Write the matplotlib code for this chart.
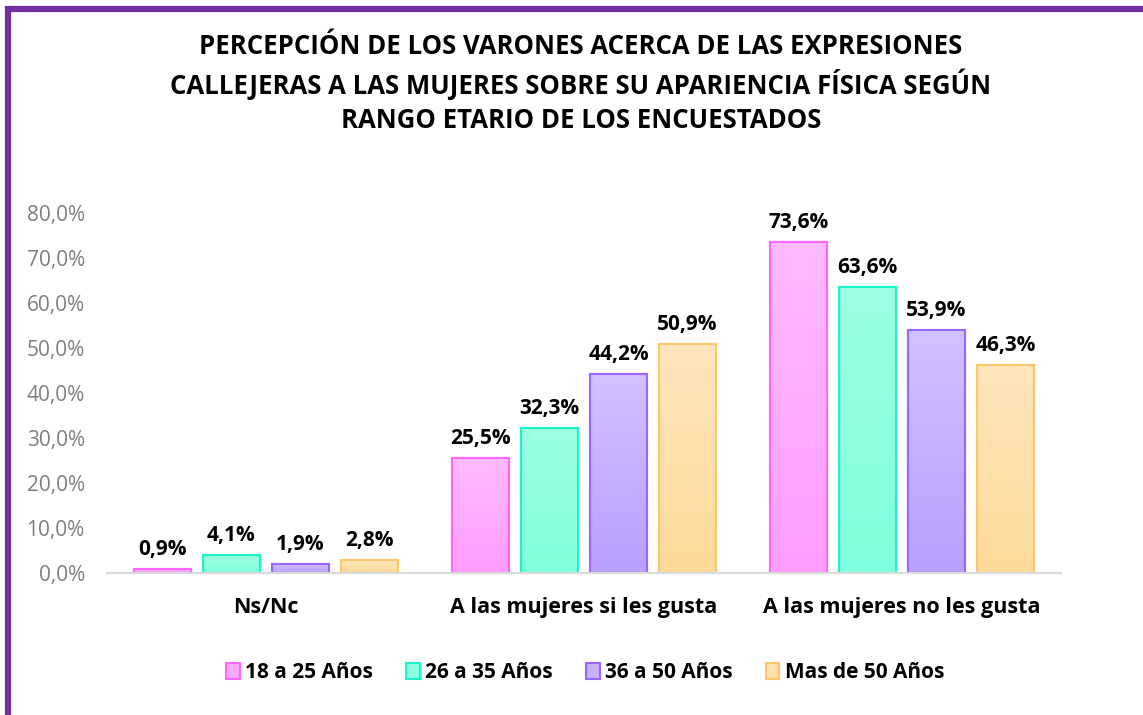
import matplotlib.pyplot as plt
import numpy as np
from matplotlib.patches import Rectangle
from matplotlib.colors import LinearSegmentedColormap

categorias = ["Ns/Nc", "A las mujeres si les gusta", "A las mujeres no les gusta"]
grupos = ["18 a 25 Años", "26 a 35 Años", "36 a 50 Años", "Mas de 50 Años"]
valores = [
    [0.9, 25.5, 73.6],
    [4.1, 32.3, 63.6],
    [1.9, 44.2, 53.9],
    [2.8, 50.9, 46.3],
]
titulo = ["PERCEPCIÓN DE LOS VARONES ACERCA DE LAS EXPRESIONES",
          "CALLEJERAS A LAS MUJERES SOBRE SU APARIENCIA FÍSICA SEGÚN",
          "RANGO ETARIO DE LOS ENCUESTADOS"]

# colores: arriba claro, abajo un poco mas fuerte
arriba = ["#FFBAFF", "#9DFFE3", "#D2C0FF", "#FEE5BC"]
abajo = ["#FF9DFF", "#80FFDC", "#B99FFF", "#FDDA9A"]
relleno = ["#FFA8FF", "#8CFFE0", "#C7B2FF", "#FDE0AA"]
borde = ["#FF66FF", "#1AF5C8", "#9966FF", "#F8C86A"]

plt.rcParams['font.family'] = ['Open Sans', 'DejaVu Sans']

fig = plt.figure(figsize=(11.43, 7.15), dpi=100)
ax = fig.add_axes([107 / 1143, 142 / 715, 954 / 1143, 360 / 715])

x = np.arange(len(categorias))
ancho = 0.179
paso = 0.217
grad = np.linspace(0, 1, 100).reshape(-1, 1)
for i, g in enumerate(grupos):
    pos = x + (i - 1.5) * paso
    barras = ax.bar(pos, valores[i], width=ancho, color=relleno[i], edgecolor=borde[i],
                    linewidth=1.5, label=g, zorder=2)
    cmap = LinearSegmentedColormap.from_list("g%d" % i, [abajo[i], arriba[i]])
    for b, px, v in zip(barras, pos, valores[i]):
        im = ax.imshow(grad, cmap=cmap, aspect='auto', origin='lower',
                       extent=(px - ancho / 2, px + ancho / 2, 0, v), zorder=2.5)
        im.set_clip_path(b)
        ax.bar(px, v, width=ancho, fill=False, edgecolor=borde[i], linewidth=1.5, zorder=3)
        ax.text(px, v + 2.0, f"{v:.1f}%".replace(".", ","), ha='center', va='bottom',
                fontsize=15, fontweight='bold', color='black')

ax.set_xlim(-0.5, 2.5)
ax.set_ylim(0, 80)
ax.set_yticks(np.arange(0, 81, 10))
ax.set_yticklabels([f"{t:.1f}%".replace(".", ",") for t in np.arange(0, 81, 10)])
ax.tick_params(axis='y', length=0, labelsize=15, labelcolor='#7F7F7F', pad=16)
ax.set_xticks(x)
ax.set_xticklabels(categorias, fontsize=15.5, fontweight='bold')
ax.tick_params(axis='x', length=0, pad=17)
for s in ['top', 'right', 'left']:
    ax.spines[s].set_visible(False)
ax.spines['bottom'].set_color('#D9D9D9')
ax.spines['bottom'].set_linewidth(1.5)
ax.spines['bottom'].set_zorder(4)

for k, linea in enumerate(titulo):
    fig.text(581 / 1143, 1 - (47 + 37 * k) / 715, linea, ha='center', va='center',
             fontsize=18.5, fontweight='bold')

fig.legend(loc='center', bbox_to_anchor=(0.512, 1 - 673 / 715), ncol=4, frameon=False,
           prop={'size': 15, 'weight': 'bold'}, handlelength=0.65, handleheight=0.8,
           handletextpad=0.25, columnspacing=1.6)

fig.patches.append(Rectangle((8 / 1143, -0.05), 1.1, 1 - 8.5 / 715 + 0.05, transform=fig.transFigure,
                             fill=False, edgecolor='#7030A0', linewidth=4.5))

fig.savefig("out.png", dpi=100)
